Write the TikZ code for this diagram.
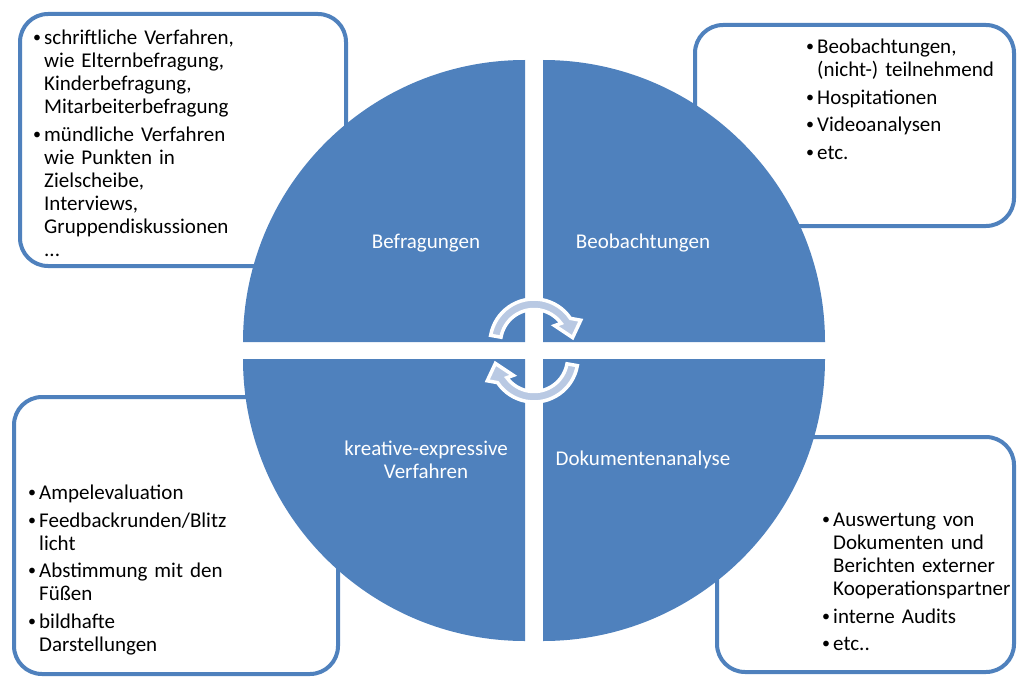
\documentclass[tikz,border=0pt]{standalone}
\usepackage{fontspec}
\setmainfont{Carlito}
\definecolor{kreisblau}{RGB}{79,129,189}
\definecolor{pfeilblau}{RGB}{185,201,227}
% bullet item with hanging indent
\newcommand{\punkt}[1]{\par\noindent\hangindent=11pt\hangafter=1\makebox[11pt][l]{\raisebox{1.8pt}{\fontsize{16}{16}\selectfont\textbullet}}\strut#1\par}

\begin{document}
\begin{tikzpicture}[x=1pt,y=1pt,
  viertel/.style={fill=kreisblau},
  kasten/.style={draw=kreisblau, line width=4pt, rounded corners=28pt, fill=white},
  liste/.style={anchor=north west, inner sep=0pt, text width=#1, align=left,
    font=\fontsize{21}{23}\selectfont, execute at begin node={\setlength{\parskip}{4.5pt}}},
  titel/.style={text=white, inner sep=0pt, align=center, font=\fontsize{21}{23}\selectfont},
  pfeil/.style={fill=pfeilblau, draw=white, line width=3.5pt}]
\useasboundingbox (0,0) rectangle (1017,-677);

%boxes behind the circle
\draw[kasten] (20,-14) rectangle (346,-266);
\draw[kasten] (695,-25) rectangle (1014,-226);
\draw[kasten] (14,-397) rectangle (338,-674);
\draw[kasten] (717,-437) rectangle (1014,-672);

%quarters of the circle
\fill[viertel] (525,-342) -- ++(-282,0) arc[start angle=180, end angle=90, radius=282] -- cycle;
\fill[viertel] (543,-342) -- ++(0,282) arc[start angle=90, end angle=0, radius=282] -- cycle;
\fill[viertel] (525,-359) -- ++(-282,0) arc[start angle=180, end angle=270, radius=282] -- cycle;
\fill[viertel] (543,-359) -- ++(282,0) arc[start angle=0, end angle=-90, radius=282] -- cycle;

\node[titel, anchor=base] (Bef) at (426,-248) {Befragungen};
\node[titel, anchor=base] (Beo) at (643,-248) {Beobachtungen};
\node[titel, anchor=north] (Kre) at (426,-439) {\strut kreative-expressive\\Verfahren};
\node[titel, anchor=base] (Dok) at (643,-465) {Dokumentenanalyse};

%circular arrows
\begin{scope}[shift={(534,-343)}]
  \draw[pfeil] (170:44) arc[start angle=170, end angle=34, radius=44]
    -- (26:52) -- (8:39) -- (40:27) -- (36:33.5)
    arc[start angle=36, end angle=170, radius=33.5] -- cycle;
\end{scope}
\begin{scope}[shift={(534,-358)}]
  \draw[pfeil] (-10:44) arc[start angle=-10, end angle=-146, radius=44]
    -- (206:52) -- (188:39) -- (220:27) -- (216:33.5)
    arc[start angle=216, end angle=350, radius=33.5] -- cycle;
\end{scope}

%lists
\node[liste=300pt] (L1) at (33,-17) {%
  \punkt{schriftliche Verfahren,\newline wie Elternbefragung,\newline Kinderbefragung,\newline Mitarbeiterbefragung}
  \punkt{mündliche Verfahren\newline wie Punkten in\newline Zielscheibe,\newline Interviews,\newline Gruppendiskussionen\newline ...}};
\node[liste=200pt] (L2) at (806,-26) {%
  \punkt{Beobachtungen,\newline (nicht-) teilnehmend}
  \punkt{Hospitationen}
  \punkt{Videoanalysen}
  \punkt{etc.}};
\node[liste=300pt] (L3) at (28,-472) {%
  \punkt{Ampelevaluation}
  \punkt{Feedbackrunden/Blitz\newline licht}
  \punkt{Abstimmung mit den\newline Füßen}
  \punkt{bildhafte\newline Darstellungen}};
\node[liste=195pt] (L4) at (822,-499) {%
  \punkt{Auswertung von\newline Dokumenten und\newline Berichten externer\newline Kooperationspartner}
  \punkt{interne Audits}
  \punkt{etc..}};
\end{tikzpicture}
\end{document}
